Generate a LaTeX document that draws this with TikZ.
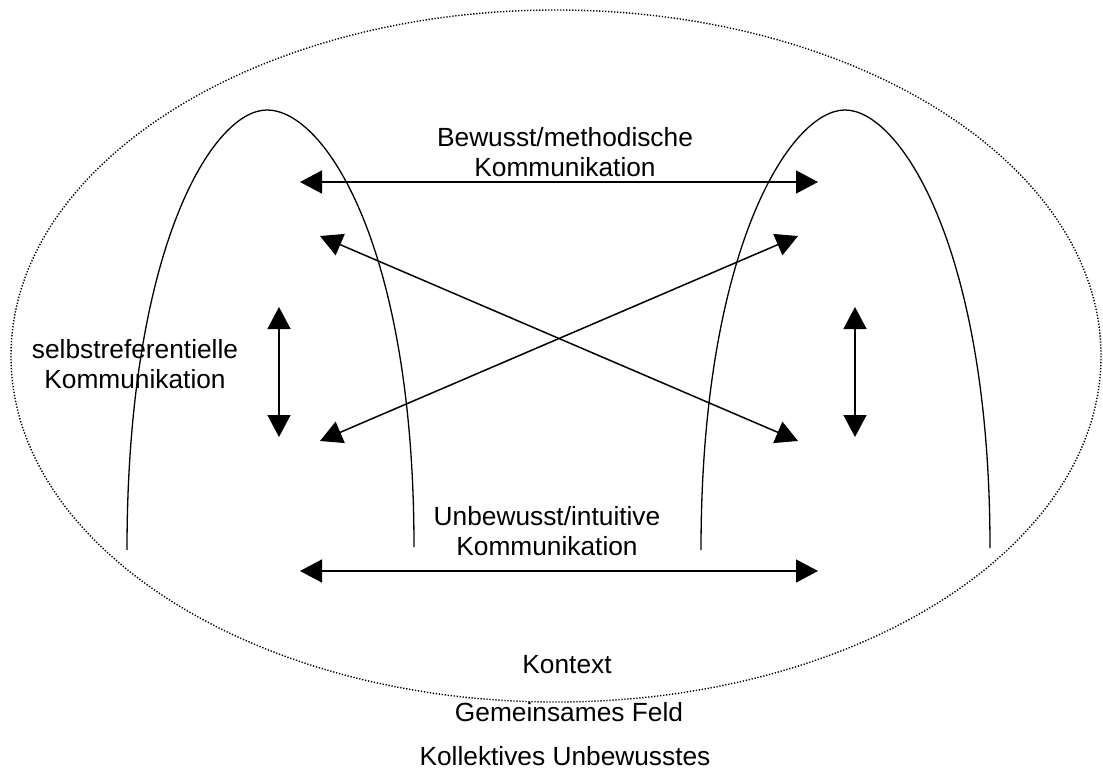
\documentclass[tikz,border=0pt]{standalone}
\usepackage{fontspec}
\setmainfont{Liberation Sans}
\usetikzlibrary{arrows.meta}

\begin{document}
\begin{tikzpicture}[x=1pt, y=-1pt, >={Triangle[length=22pt,width=23pt]},
  lbl/.style={font=\fontsize{26.3}{30}\selectfont, align=center, inner sep=0pt}]

% Frame of the picture
\useasboundingbox (0,0) rectangle (1103,770);

% Context ellipse
\draw[line width=1.4pt, dash pattern=on 1.3pt off 1.7pt] (556,356) ellipse [x radius=545, y radius=346];

% The two partners
\draw[line width=1.3pt] (127,550) .. controls (127,250) and (212,110) .. (267,110)
  .. controls (325,110) and (414,247) .. (414,547);
\draw[line width=1.3pt] (701,550) .. controls (701,250) and (790,110) .. (845,110)
  .. controls (900,110) and (990,248) .. (990,548);

% Arrow end points
\coordinate (bm-l) at (300,182);
\coordinate (bm-r) at (818,182);
\coordinate (ui-l) at (300,571);
\coordinate (ui-r) at (818,571);
\coordinate (sl-t) at (279,307);
\coordinate (sl-b) at (279,437);
\coordinate (sr-t) at (855,307);
\coordinate (sr-b) at (855,437);
\coordinate (x-nw) at (320,236);
\coordinate (x-ne) at (798,236);
\coordinate (x-sw) at (320,441);
\coordinate (x-se) at (798,441);

% Communication arrows
\draw[<->, line width=1.5pt] (bm-l) -- (bm-r);
\draw[<->, line width=1.5pt] (ui-l) -- (ui-r);
\draw[<->, line width=1.5pt] (sl-t) -- (sl-b);
\draw[<->, line width=1.5pt] (sr-t) -- (sr-b);
\draw[<->, line width=1.5pt] (x-nw) -- (x-se);
\draw[<->, line width=1.5pt] (x-ne) -- (x-sw);

% Labels
\node[lbl, anchor=base] (bm) at (565,177) {Bewusst/methodische\\Kommunikation};
\node[lbl, anchor=base] (sr) at (135,388) {selbstreferentielle\\Kommunikation};
\node[lbl, anchor=base] (ui) at (547,555) {Unbewusst/intuitive\\Kommunikation};
\node[lbl, anchor=base] (kontext) at (567,673) {Kontext};
\node[lbl, anchor=base] (feld) at (569,721) {Gemeinsames Feld};
\node[lbl, anchor=base] (kollektiv) at (565,765) {Kollektives Unbewusstes};

\end{tikzpicture}
\end{document}
